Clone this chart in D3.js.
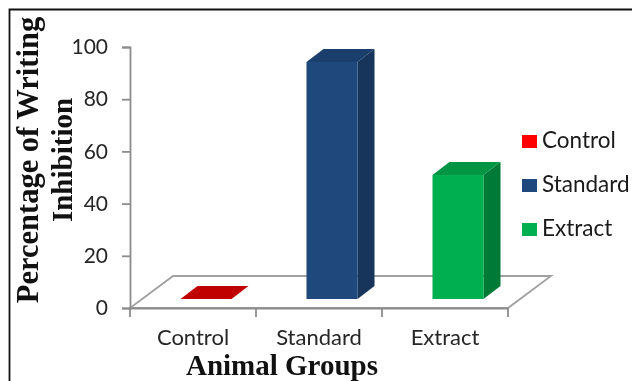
<!DOCTYPE html>
<html>
<head>
<meta charset="utf-8">
<script src="https://cdn.jsdelivr.net/npm/d3@7"></script>
<style>
html, body { margin: 0; padding: 0; background: #fff; }
svg { display: block; filter: blur(0.45px); }
</style>
</head>
<body>
<div id="chart"></div>
<script>
var categories = ["Control", "Standard", "Extract"];
var inhibition = [0, 90.8, 47.5];
var yTicks = [0, 20, 40, 60, 80, 100];
var frontColor = ["#c00000", "#1f497d", "#00b050"];
var sideColor = ["#900000", "#17345a", "#007a37"];
var topColor = ["#c00000", "#1b3f6c", "#009543"];
var legendColor = ["#ff0000", "#1f497d", "#00b050"];

var canvasWidth = 632;
var canvasHeight = 381;

/*3d offsets: floor depth, bar depth and how far the bars sit back from the front edge*/
var floorDx = 43, floorDy = -32;
var barDx = 17, barDy = -13;
var insetDx = 13, insetDy = -9;

var svg = d3.select("#chart")
    .append("svg")
    .attr("width", canvasWidth)
    .attr("height", canvasHeight);

/*Frame around the figure*/
svg.append("path")
    .attr("d", "M9.5,381V9.5H632")
    .attr("fill", "none")
    .attr("stroke", "#111")
    .attr("stroke-width", 1.8);

/*Scales*/
var xScale = d3.scaleBand().domain(categories).range([130, 508]).paddingInner(0.595).paddingOuter(0.2975);
var yScale = d3.scaleLinear().domain([0, 100]).range([308, 47]);

function poly(points) {
    return "M" + points.map(function(p) { return p.join(","); }).join("L") + "Z";
}

/*Floor*/
var x0 = xScale.range()[0], x1 = xScale.range()[1], y0 = yScale(0);
svg.append("path")
    .attr("d", poly([[x0, y0], [x1, y0], [x1 + floorDx, y0 + floorDy], [x0 + floorDx, y0 + floorDy]]))
    .attr("fill", "#fff")
    .attr("stroke", "#a0a0a0")
    .attr("stroke-width", 1.8);

/*Y axis*/
var yAxis = svg.append("g")
    .attr("transform", "translate(" + x0 + ",0)")
    .call(d3.axisLeft(yScale).tickValues(yTicks).tickSize(8).tickPadding(14));
yAxis.selectAll("path, line").attr("stroke", "#8c8c8c").attr("stroke-width", 1.8);
yAxis.selectAll("text")
    .attr("font-family", "Lato, sans-serif")
    .attr("font-size", 21)
    .attr("fill", "#262626");

/*X axis, ticks go on the band edges so they are drawn apart from the labels*/
var xAxis = svg.append("g")
    .attr("transform", "translate(0," + y0 + ")")
    .call(d3.axisBottom(xScale).tickSize(0).tickPadding(21));
xAxis.select("path").attr("stroke", "#8c8c8c").attr("stroke-width", 1.8);
xAxis.selectAll("text")
    .attr("font-family", "Lato, sans-serif")
    .attr("font-size", 22)
    .attr("fill", "#262626");
xAxis.selectAll(".edge")
    .data(d3.range(categories.length + 1))
    .join("line")
    .attr("class", "edge")
    .attr("x1", function(i) { return x0 + i * xScale.step(); })
    .attr("x2", function(i) { return x0 + i * xScale.step(); })
    .attr("y2", 9)
    .attr("stroke", "#8c8c8c")
    .attr("stroke-width", 1.8);

/*Bars: side, top, then front*/
var bars = svg.append("g")
    .selectAll("g")
    .data(categories)
    .join("g");

function barLeft(d) { return xScale(d) + insetDx; }
function barRight(d) { return barLeft(d) + xScale.bandwidth(); }
function barBase() { return y0 + insetDy; }
function barTop(d, i) { return yScale(inhibition[i]) + insetDy; }

bars.append("path")
    .attr("fill", function(d, i) { return sideColor[i]; })
    .attr("d", function(d, i) {
        return poly([[barRight(d), barBase()], [barRight(d) + barDx, barBase() + barDy],
            [barRight(d) + barDx, barTop(d, i) + barDy], [barRight(d), barTop(d, i)]]);
    });
bars.append("path")
    .attr("fill", function(d, i) { return topColor[i]; })
    .attr("d", function(d, i) {
        return poly([[barLeft(d), barTop(d, i)], [barRight(d), barTop(d, i)],
            [barRight(d) + barDx, barTop(d, i) + barDy], [barLeft(d) + barDx, barTop(d, i) + barDy]]);
    });
bars.append("rect")
    .attr("fill", function(d, i) { return frontColor[i]; })
    .attr("x", barLeft)
    .attr("y", barTop)
    .attr("width", xScale.bandwidth())
    .attr("height", function(d, i) { return barBase() - barTop(d, i); });

/*Legend*/
var legend = svg.append("g")
    .selectAll("g")
    .data(categories)
    .join("g")
    .attr("transform", function(d, i) { return "translate(522," + (135 + i * 44) + ")"; });
legend.append("rect")
    .attr("width", 15)
    .attr("height", 13)
    .attr("fill", function(d, i) { return legendColor[i]; });
legend.append("text")
    .attr("x", 20)
    .attr("y", 13)
    .attr("font-family", "Lato, sans-serif")
    .attr("font-size", 22.5)
    .attr("fill", "#1a1a1a")
    .text(function(d) { return d; });

/*Titles*/
var titleFont = "'Liberation Serif', serif";
svg.append("text")
    .attr("transform", "translate(38,160) rotate(-90)")
    .attr("text-anchor", "middle")
    .attr("font-family", titleFont)
    .attr("font-weight", "bold")
    .attr("font-size", 30.5)
    .attr("fill", "#111")
    .text("Percentage of Writing");
svg.append("text")
    .attr("transform", "translate(72,160) rotate(-90)")
    .attr("text-anchor", "middle")
    .attr("font-family", titleFont)
    .attr("font-weight", "bold")
    .attr("font-size", 29)
    .attr("fill", "#111")
    .text("Inhibition");
svg.append("text")
    .attr("x", 282)
    .attr("y", 374.5)
    .attr("text-anchor", "middle")
    .attr("font-family", titleFont)
    .attr("font-weight", "bold")
    .attr("font-size", 29)
    .attr("fill", "#111")
    .text("Animal Groups");
</script>
</body>
</html>
